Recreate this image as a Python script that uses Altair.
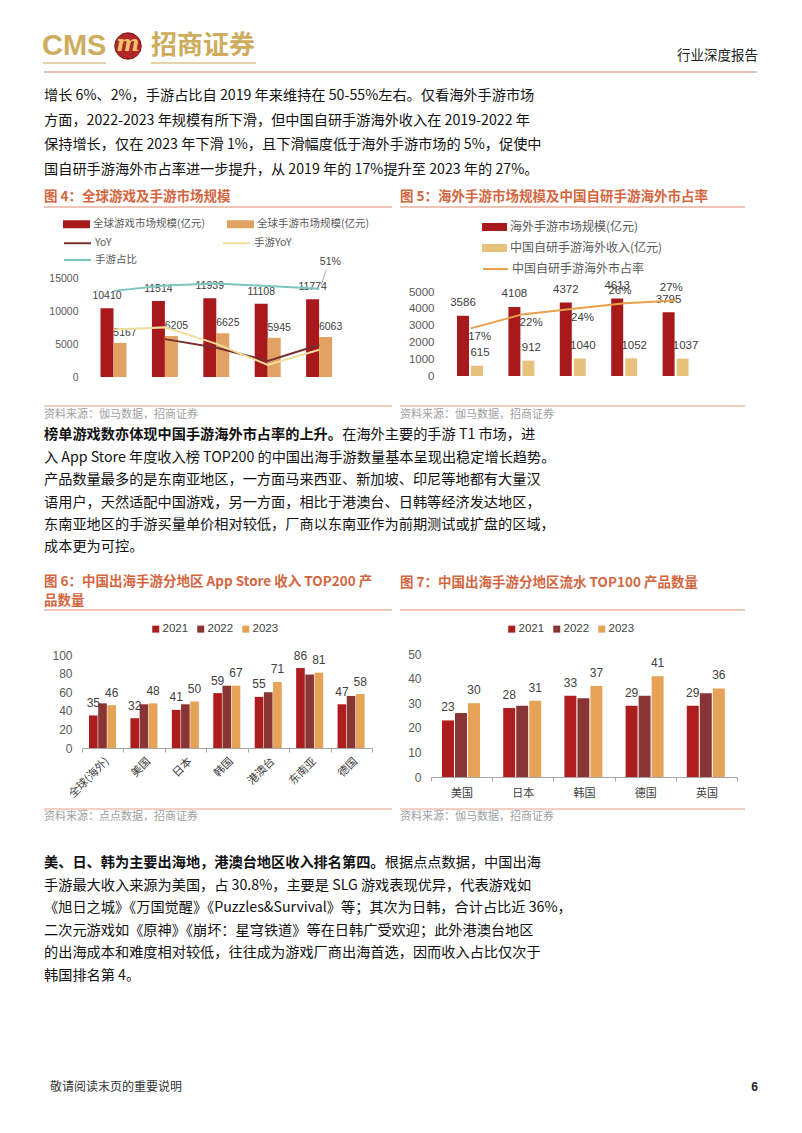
import altair as alt
import pandas as pd

# ---------------- data ----------------
years = ["2019", "2020", "2021", "2022", "2023"]

# Figure 4
f4_bar_names = ["全球游戏市场规模(亿元)", "全球手游市场规模(亿元)"]
f4_global_game = [10410, 11514, 11939, 11108, 11774]
f4_global_mobile = [5167, 6205, 6625, 5945, 6063]
f4_line_names = ["YoY", "手游YoY", "手游占比"]
f4_yoy = [None, 10.6, 3.7, -7.0, 6.0]
f4_mobile_yoy = [18.4, 20.1, 6.8, -10.3, 2.0]
f4_mobile_share = [49.6, 53.9, 55.5, 53.5, 51.4]

# Figure 5
f5_bar_names = ["海外手游市场规模(亿元)", "中国自研手游海外收入(亿元)"]
f5_line_name = ["中国自研手游海外市占率"]
f5_overseas = [3586, 4108, 4372, 4613, 3795]
f5_cn_overseas = [615, 912, 1040, 1052, 1037]
f5_share = [17, 22, 24, 26, 27]

# Figure 6
f6_regions = ["全球(海外)", "美国", "日本", "韩国", "港澳台", "东南亚", "德国"]
f6_2021 = [35, 32, 41, 59, 55, 86, 47]
f6_2022 = [48, 47, 47, 67, 60, 79, 56]
f6_2023 = [46, 48, 50, 67, 71, 81, 58]

# Figure 7
f7_regions = ["美国", "日本", "韩国", "德国", "英国"]
f7_2021 = [23, 28, 33, 29, 29]
f7_2022 = [26, 29, 32, 33, 34]
f7_2023 = [30, 31, 37, 41, 36]
series_years = ["2021", "2022", "2023"]

# ---------------- text ----------------
header_right = "行业深度报告"
para1 = [
    "增长 6%、2%，手游占比自 2019 年来维持在 50-55%左右。仅看海外手游市场",
    "方面，2022-2023 年规模有所下滑，但中国自研手游海外收入在 2019-2022 年",
    "保持增长，仅在 2023 年下滑 1%，且下滑幅度低于海外手游市场的 5%，促使中",
    "国自研手游海外市占率进一步提升，从 2019 年的 17%提升至 2023 年的 27%。",
]
para2_bold = "榜单游戏数亦体现中国手游海外市占率的上升。"
para2 = [
    "在海外主要的手游 T1 市场，进",
    "入 App Store 年度收入榜 TOP200 的中国出海手游数量基本呈现出稳定增长趋势。",
    "产品数量最多的是东南亚地区，一方面马来西亚、新加坡、印尼等地都有大量汉",
    "语用户，天然适配中国游戏，另一方面，相比于港澳台、日韩等经济发达地区，",
    "东南亚地区的手游买量单价相对较低，厂商以东南亚作为前期测试或扩盘的区域，",
    "成本更为可控。",
]
para3_bold = "美、日、韩为主要出海地，港澳台地区收入排名第四。"
para3 = [
    "根据点点数据，中国出海",
    "手游最大收入来源为美国，占 30.8%，主要是 SLG 游戏表现优异，代表游戏如",
    "《旭日之城》《万国觉醒》《Puzzles&Survival》等；其次为日韩，合计占比近 36%，",
    "二次元游戏如《原神》《崩坏：星穹铁道》等在日韩广受欢迎；此外港澳台地区",
    "的出海成本和难度相对较低，往往成为游戏厂商出海首选，因而收入占比仅次于",
    "韩国排名第 4。",
]
fig4_title = "图 4：全球游戏及手游市场规模"
fig5_title = "图 5：海外手游市场规模及中国自研手游海外市占率"
fig6_title = ["图 6：中国出海手游分地区 App Store 收入 TOP200 产", "品数量"]
fig7_title = "图 7：中国出海手游分地区流水 TOP100 产品数量"
src_gm = "资料来源：伽马数据，招商证券"
src_dd = "资料来源：点点数据，招商证券"
footer = "敬请阅读末页的重要说明"
page_no = "6"

# ---------------- layout helpers ----------------
OX, OY = 8, 8
W, H = 786, 1117
CJK = "Noto Sans CJK SC"
NUM = "Liberation Sans"
AXG = "#A6A6A6"
LBL = "#595959"
DARK = "#404040"
TITLE_C = "#D4663F"
RULE_C = "#DB8B6E"
GOLD = "#CDAC5E"


def px(x):
    return x - OX


def py(y):
    return y - OY


one = alt.Data(values=[{"a": 1}])


def txt(s, x, y, size=14.2, color="#111111", weight="normal", align="left", font=CJK, style="normal"):
    return alt.Chart(one).mark_text(
        text=s, fontSize=size, color=color, fontWeight=weight, align=align,
        font=font, baseline="middle", fontStyle=style
    ).encode(x=alt.value(px(x)), y=alt.value(py(y)))


def hline(x1, x2, y, color, width=1.0):
    return alt.Chart(one).mark_rule(color=color, strokeWidth=width).encode(
        x=alt.value(px(x1)), x2=alt.value(px(x2)), y=alt.value(py(y))
    )


def band_x(field, domain, r0, r1, axis_y, size, angle=0, font=NUM, pad=4, color=LBL, axis=True):
    ax = None
    if axis:
        ax = alt.Axis(orient="bottom", offset=py(axis_y) - H, title=None, labelAngle=angle,
                      tickBand="extent", domainColor=AXG, tickColor=AXG, tickSize=4,
                      labelPadding=pad, labelFontSize=size, labelFont=font, labelColor=color,
                      grid=False, labelOverlap=False)
    return alt.X(f"{field}:N", sort=domain,
                 scale=alt.Scale(domain=domain, range=[px(r0), px(r1)], paddingInner=0, paddingOuter=0),
                 axis=ax)


def lin_y(domain, y0, y1, orient, axis_x, values, pad, size, suffix="", axis=True):
    ax = None
    if axis:
        off = -px(axis_x) if orient == "left" else px(axis_x) - W
        kw = dict(orient=orient, offset=off, values=values, domain=False, ticks=False,
                  labelPadding=pad, grid=False, title=None, labelFontSize=size,
                  labelColor=LBL, labelFont=NUM, format="d")
        if suffix:
            kw["labelExpr"] = f"datum.value + '{suffix}'"
        ax = alt.Axis(**kw)
    return alt.Y("value:Q", scale=alt.Scale(domain=domain, range=[py(y0), py(y1)], nice=False, zero=False),
                 axis=ax)


def rect_legend(x_left, y_center, half_w, label_offset, size, cols, col_pad, row_pad=2, direction="horizontal"):
    # custom wide rectangle symbol; symbol slot is 16px wide (size 256)
    return alt.Legend(orient="none", legendX=px(x_left) + half_w - 8, legendY=py(y_center) - 8,
                      title=None, direction=direction, columns=cols, columnPadding=col_pad, rowPadding=row_pad,
                      symbolType=f"M-{half_w/8:.4f},-0.5H{half_w/8:.4f}V0.5H-{half_w/8:.4f}Z",
                      symbolSize=256, symbolStrokeWidth=0, labelOffset=label_offset,
                      labelFontSize=size, labelFont=CJK, labelColor=LBL, padding=0)


def line_legend(x_left, y_center, half_w, label_offset, size, cols, col_pad, row_pad=2):
    return alt.Legend(orient="none", legendX=px(x_left) + half_w - 8, legendY=py(y_center) - 8,
                      title=None, direction="horizontal", columns=cols, columnPadding=col_pad, rowPadding=row_pad,
                      symbolType=f"M-{half_w/8:.4f},0H{half_w/8:.4f}",
                      symbolSize=256, symbolStrokeWidth=2, labelOffset=label_offset,
                      labelFontSize=size, labelFont=CJK, labelColor=LBL, padding=0)


# ---------------- Figure 4 ----------------
df4b = pd.DataFrame({
    "year": years * 2,
    "series": [f4_bar_names[0]] * 5 + [f4_bar_names[1]] * 5,
    "value": f4_global_game + f4_global_mobile,
})
rows = []
for name, vals in zip(f4_line_names, [f4_yoy, f4_mobile_yoy, f4_mobile_share]):
    for yr, v in zip(years, vals):
        if v is not None:
            rows.append({"year": yr, "series": name, "value": v})
df4l = pd.DataFrame(rows)

xo4 = alt.XOffset("series:N", sort=f4_bar_names,
                  scale=alt.Scale(domain=f4_bar_names, range=[12.5, 38.5], paddingInner=0, paddingOuter=0))
base4 = alt.Chart(df4b).encode(
    x=band_x("year", years, 88, 345, 377, 10.5),
    xOffset=xo4,
    y=lin_y([0, 15000], 377, 278, "left", 88, [0, 5000, 10000, 15000], 10, 10.5),
)
bars4 = base4.mark_bar().encode(
    color=alt.Color("series:N", sort=f4_bar_names,
                    scale=alt.Scale(domain=f4_bar_names, range=["#A8191C", "#E2A263"]),
                    legend=rect_legend(63, 224, 13.5, 8.5, 10.5, 2, 21))
)
lab4a = base4.transform_filter(alt.datum.series == f4_bar_names[0]).mark_text(
    dy=-12, fontSize=10.5, font=NUM, color=DARK).encode(text=alt.Text("value:Q", format="d"))
lab4b = base4.transform_filter(alt.datum.series == f4_bar_names[1]).mark_text(
    dy=-10, dx=5, fontSize=10.5, font=NUM, color=DARK).encode(text=alt.Text("value:Q", format="d"))
bar_layer4 = alt.layer(bars4, lab4a, lab4b)

x4n = band_x("year", years, 88, 345, 377, 10.5, axis=False)
y4r = lin_y([-20, 60], 377, 278, "right", 345, [-20, 0, 20, 40, 60], 7, 10.5, suffix="%")
y4rn = lin_y([-20, 60], 377, 278, "right", 345, [-20, 0, 20, 40, 60], 7, 10.5, axis=False)
lines4 = alt.Chart(df4l).mark_line(strokeWidth=2).encode(
    x=x4n, y=y4r,
    color=alt.Color("series:N", sort=f4_line_names,
                    scale=alt.Scale(domain=f4_line_names, range=["#7A2E2E", "#F1DE9E", "#7CC7BD"]),
                    legend=line_legend(63, 242, 13.5, 8.5, 10.5, 2, 81)),
)
last_share = alt.Chart(df4l).transform_filter(
    (alt.datum.series == "手游占比") & (alt.datum.year == "2023"))
lab51 = last_share.transform_calculate(lbl="format(datum.value, '.0f') + '%'").mark_text(
    dx=11, dy=-27, fontSize=10.5, font=NUM, color=DARK).encode(x=x4n, y=y4rn, text="lbl:N")
lead51 = last_share.mark_rule(color="#8c8c8c", strokeWidth=0.8, xOffset=2, x2Offset=7,
                              yOffset=-4, y2Offset=-19).encode(
    x=x4n, x2=alt.X2("year"), y=y4rn, y2=alt.Y2("value"))
line_layer4 = alt.layer(lines4, lead51, lab51)
fig4 = alt.layer(bar_layer4, line_layer4).resolve_scale(y="independent", color="independent")

# ---------------- Figure 5 ----------------
df5b = pd.DataFrame({
    "year": years * 2,
    "series": [f5_bar_names[0]] * 5 + [f5_bar_names[1]] * 5,
    "value": f5_overseas + f5_cn_overseas,
})
df5l = pd.DataFrame({"year": years, "series": f5_line_name * 5, "value": f5_share})

xo5 = alt.XOffset("series:N", sort=f5_bar_names,
                  scale=alt.Scale(domain=f5_bar_names, range=[12, 38], paddingInner=0.143, paddingOuter=0))
base5 = alt.Chart(df5b).encode(
    x=band_x("year", years, 445, 702, 376, 11.5),
    xOffset=xo5,
    y=lin_y([0, 5000], 376, 292, "left", 445, [0, 1000, 2000, 3000, 4000, 5000], 11, 11.5),
)
bars5 = base5.mark_bar().encode(
    color=alt.Color("series:N", sort=f5_bar_names,
                    scale=alt.Scale(domain=f5_bar_names, range=["#A8191C", "#E6C27C"]),
                    legend=rect_legend(482, 227, 12.5, 7.5, 12, 1, 10, row_pad=7, direction="vertical"))
)
lab5a = base5.transform_filter(alt.datum.series == f5_bar_names[0]).mark_text(
    dy=-12.5, fontSize=11.5, font=NUM, color=DARK).encode(text=alt.Text("value:Q", format="d"))
lab5b = base5.transform_filter(alt.datum.series == f5_bar_names[1]).mark_text(
    dy=-12.5, dx=3, fontSize=11.5, font=NUM, color=DARK).encode(text=alt.Text("value:Q", format="d"))
bar_layer5 = alt.layer(bars5, lab5a, lab5b)

x5n = band_x("year", years, 445, 702, 376, 11.5, axis=False)
y5r = lin_y([0, 30], 376, 292, "right", 702, [0, 10, 20, 30], 8, 11.5, suffix="%")
y5rn = lin_y([0, 30], 376, 292, "right", 702, [0, 10, 20, 30], 8, 11.5, axis=False)
line5 = alt.Chart(df5l).mark_line(strokeWidth=2).encode(
    x=x5n, y=y5r,
    color=alt.Color("series:N", scale=alt.Scale(domain=f5_line_name, range=["#E9A04A"]),
                    legend=line_legend(482, 268, 12.5, 7.5, 12, 1, 10)),
)
base5l = alt.Chart(df5l).transform_calculate(lbl="datum.value + '%'")
lab5l_a = base5l.transform_filter(alt.FieldOneOfPredicate(field="year", oneOf=years[:3])).mark_text(
    dx=9, dy=9, fontSize=11.5, font=NUM, color=DARK).encode(x=x5n, y=y5rn, text="lbl:N")
lab5l_b = base5l.transform_filter(alt.FieldOneOfPredicate(field="year", oneOf=years[3:])).mark_text(
    dx=-5, dy=-12, fontSize=11.5, font=NUM, color=DARK).encode(x=x5n, y=y5rn, text="lbl:N")
line_layer5 = alt.layer(line5, lab5l_a, lab5l_b)
fig5 = alt.layer(bar_layer5, line_layer5).resolve_scale(y="independent", color="independent")

# ---------------- Figure 6 ----------------
df6 = pd.DataFrame({
    "region": f6_regions * 3,
    "series": [s for s in series_years for _ in f6_regions],
    "value": f6_2021 + f6_2022 + f6_2023,
})
yr_colors = ["#AE1D1E", "#8A3535", "#E6A257"]


def year_legend(x_left, y_center):
    return alt.Legend(orient="none", legendX=px(x_left) - 4, legendY=py(y_center) - 6, title=None,
                      direction="horizontal", symbolType="square", symbolSize=49, symbolStrokeWidth=0,
                      labelOffset=1, columnPadding=6, labelFontSize=11.5, labelFont=NUM,
                      labelColor=DARK, padding=0)


base6 = alt.Chart(df6).encode(
    x=band_x("region", f6_regions, 82, 372, 748, 11, angle=-45, font=CJK, pad=3, color=DARK),
    xOffset=alt.XOffset("series:N", sort=series_years,
                        scale=alt.Scale(domain=series_years, range=[7, 34], paddingInner=0.06, paddingOuter=0)),
    y=lin_y([0, 100], 748, 655, "left", 82, [0, 20, 40, 60, 80, 100], 10, 12),
)
bars6 = base6.mark_bar().encode(
    color=alt.Color("series:N", sort=series_years, scale=alt.Scale(domain=series_years, range=yr_colors),
                    legend=year_legend(154, 629)))
lab6 = base6.transform_filter(alt.FieldOneOfPredicate(field="series", oneOf=["2021", "2023"])).mark_text(
    dy=-12.5, fontSize=12, font=NUM, color=DARK).encode(text=alt.Text("value:Q", format="d"))
fig6 = alt.layer(bars6, lab6)

# ---------------- Figure 7 ----------------
df7 = pd.DataFrame({
    "region": f7_regions * 3,
    "series": [s for s in series_years for _ in f7_regions],
    "value": f7_2021 + f7_2022 + f7_2023,
})
base7 = alt.Chart(df7).encode(
    x=band_x("region", f7_regions, 431, 737, 777, 11, font=CJK, pad=6, color=DARK),
    xOffset=alt.XOffset("series:N", sort=series_years,
                        scale=alt.Scale(domain=series_years, range=[11, 49], paddingInner=0.08, paddingOuter=0)),
    y=lin_y([0, 50], 777, 654, "left", 431, [0, 10, 20, 30, 40, 50], 10, 12),
)
bars7 = base7.mark_bar().encode(
    color=alt.Color("series:N", sort=series_years, scale=alt.Scale(domain=series_years, range=yr_colors),
                    legend=year_legend(510, 629)))
lab7 = base7.transform_filter(alt.FieldOneOfPredicate(field="series", oneOf=["2021", "2023"])).mark_text(
    dy=-13, fontSize=12, font=NUM, color=DARK).encode(text=alt.Text("value:Q", format="d"))
fig7 = alt.layer(bars7, lab7)

# ---------------- page decoration ----------------
deco = []
# logo
deco.append(txt("CMS", 42, 46, size=29, color=GOLD, weight="bold", font=NUM))
deco.append(alt.Chart(one).mark_circle(opacity=1, color="#B3262A", stroke="#7E1416", strokeWidth=1).encode(
    x=alt.value(px(128)), y=alt.value(py(46)), size=alt.value(700)))
deco.append(txt("m", 128, 44, size=22, color="#EBC66A", weight="bold", align="center", font="DejaVu Serif", style="italic"))
deco.append(txt("招商证券", 151, 46, size=26, color=GOLD, weight="bold"))
deco.append(hline(43, 106, 63, "#DCC58E", 1.5))
deco.append(hline(151, 256, 63, "#DCC58E", 1.5))
deco.append(txt(header_right, 758, 56, size=13.5, color="#222222", align="right"))
deco.append(hline(44, 757, 72, "#C97B74", 1.2))

for i, line in enumerate(para1):
    deco.append(txt(line, 44, [96, 121, 145, 170][i]))

# figure titles & rules
deco.append(txt(fig4_title, 44, 197, size=13.5, color=TITLE_C, weight="bold"))
deco.append(txt(fig5_title, 400, 197, size=13.5, color=TITLE_C, weight="bold"))
deco.append(hline(44, 392, 207, RULE_C))
deco.append(hline(400, 745, 207, RULE_C))
deco.append(hline(44, 392, 406, RULE_C, 0.8))
deco.append(hline(400, 745, 406, RULE_C, 0.8))
deco.append(txt(src_gm, 44, 415, size=11, color="#A0A0A0"))
deco.append(txt(src_gm, 400, 415, size=11, color="#A0A0A0"))

p2y = [435, 458, 480, 503, 525, 547]
deco.append(txt(para2_bold, 44, p2y[0], weight="bold"))
deco.append(txt(para2[0], 44 + 14.2 * len(para2_bold), p2y[0]))
for i, line in enumerate(para2[1:]):
    deco.append(txt(line, 44, p2y[i + 1]))

deco.append(txt(fig6_title[0], 44, 582, size=13.5, color=TITLE_C, weight="bold"))
deco.append(txt(fig6_title[1], 44, 601, size=13.5, color=TITLE_C, weight="bold"))
deco.append(txt(fig7_title, 400, 583, size=13.5, color=TITLE_C, weight="bold"))
deco.append(hline(44, 392, 610, RULE_C))
deco.append(hline(400, 745, 610, RULE_C))
deco.append(hline(44, 392, 809, RULE_C, 0.8))
deco.append(hline(400, 745, 809, RULE_C, 0.8))
deco.append(txt(src_dd, 44, 817, size=11, color="#A0A0A0"))
deco.append(txt(src_gm, 400, 817, size=11, color="#A0A0A0"))

p3y = [863, 886, 908, 931, 953, 976]
deco.append(txt(para3_bold, 44, p3y[0], weight="bold"))
deco.append(txt(para3[0], 44 + 14.2 * len(para3_bold), p3y[0]))
for i, line in enumerate(para3[1:]):
    deco.append(txt(line, 44, p3y[i + 1]))

deco.append(txt(footer, 50, 1087, size=12, color="#333333"))
deco.append(txt(page_no, 758, 1087, size=12, color="#222222", weight="bold", align="right", font=NUM))

chart = alt.layer(*deco, fig4, fig5, fig6, fig7).resolve_scale(
    x="independent", y="independent", color="independent", xOffset="independent"
).properties(
    width=W, height=H, padding=0, autosize=alt.AutoSizeParams(type="none")
).configure_view(stroke=None)

chart.save("out.html", embed_options={"renderer": "svg", "actions": False})
